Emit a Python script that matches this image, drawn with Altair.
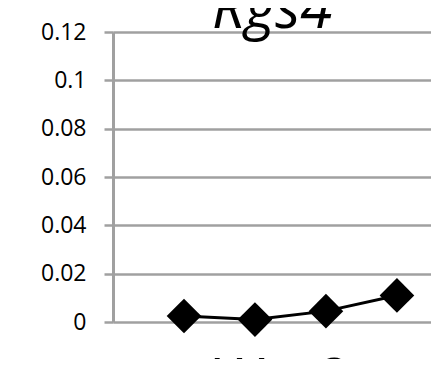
import altair as alt
import pandas as pd

# data
positions = [1, 2, 3, 4]
values = [0.0025, 0.001, 0.0045, 0.011]
y_ticks = [0, 0.02, 0.04, 0.06, 0.08, 0.1, 0.12]
title_text = "Rgs4"
x_title = "Wnt2"

df = pd.DataFrame({"pos": positions, "val": values})

font = "Open Sans"
grey = "#a0a0a0"

x_enc = alt.X(
    "pos:Q",
    scale=alt.Scale(domain=[0, 4.48], nice=False, zero=False),
    axis=alt.Axis(
        title=x_title, domain=False, ticks=False, labels=False, grid=False,
        titleFont=font, titleFontSize=60, titleFontStyle="italic",
        titleFontWeight="normal", titleColor="black",
        titleBaseline="top", titleY=31, titleX=164,
    ),
)
y_enc = alt.Y(
    "val:Q",
    scale=alt.Scale(domain=[0, 0.12], nice=False),
    axis=alt.Axis(
        title=None, values=y_ticks, labelExpr="format(datum.value, '~g')",
        grid=True, gridColor=grey, gridWidth=2.5,
        domain=True, domainColor=grey, domainWidth=3,
        ticks=True, tickColor=grey, tickWidth=2.5, tickSize=9,
        labelFont=font, labelFontSize=23, labelColor="black", labelPadding=18,
    ),
)

line = alt.Chart(df).mark_line(color="black", strokeWidth=3).encode(x=x_enc, y=y_enc)
pts = alt.Chart(df).mark_point(
    shape="diamond", filled=True, color="black", size=1200, opacity=1
).encode(x="pos:Q", y="val:Q")

chart = (line + pts).properties(
    width=318, height=290,
    autosize=alt.AutoSizeParams(type="none"),
    padding={"left": 105, "top": 24, "right": 0, "bottom": 37},
    title=alt.TitleParams(
        title_text, font=font, fontSize=58, fontStyle="italic",
        fontWeight="normal", color="black", baseline="alphabetic",
        anchor="middle", offset=0, dy=65,
    ),
).configure_view(stroke=None).configure(background="white")

chart.save("out.html", embed_options={"renderer": "svg", "actions": False})
